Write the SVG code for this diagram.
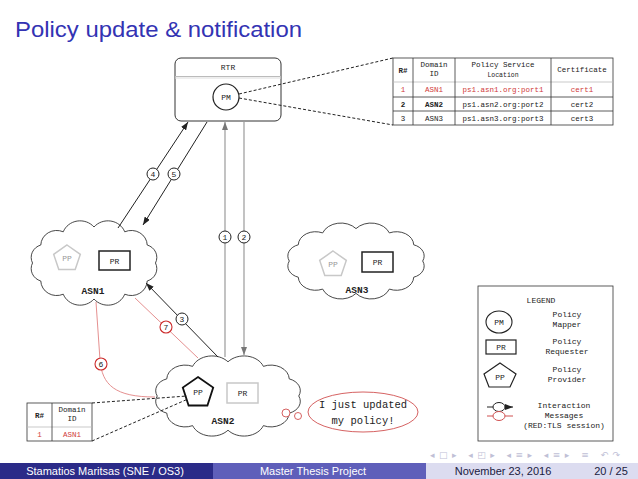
<svg xmlns="http://www.w3.org/2000/svg" width="638" height="479" viewBox="0 0 638 479">
<defs>
<style>
.mono{font-family:"Liberation Mono","DejaVu Sans Mono",monospace;fill:#222}
.t7{font-size:7.5px}
.t8{font-size:8px}
.b{font-weight:bold}
.red{fill:#d03a3a}
.cloud{fill:#fff;stroke:#333;stroke-width:0.9;vector-effect:non-scaling-stroke}
.blk{stroke:#222;stroke-width:1;fill:none}
.gry{stroke:#9a9a9a;stroke-width:1.2;fill:none}
.rl{stroke:#e59090;stroke-width:1;fill:none}
.dash{stroke:#222;stroke-width:1;stroke-dasharray:3,2;fill:none}
.lab{fill:#fff;stroke:#222;stroke-width:1}
.labr{fill:#fff;stroke:#cc2a2a;stroke-width:1.1}
.tbl{fill:#fff;stroke:#333;stroke-width:0.8}
.sans{font-family:"Liberation Sans","DejaVu Sans",sans-serif}
</style>
<marker id="ab" markerWidth="8" markerHeight="6" refX="8" refY="3" orient="auto" markerUnits="userSpaceOnUse"><path d="M0,0 L8,3 L0,6 z" fill="#222"/></marker>
<marker id="ag" markerWidth="8" markerHeight="6" refX="8" refY="3" orient="auto" markerUnits="userSpaceOnUse"><path d="M0,0 L8,3 L0,6 z" fill="#777"/></marker>
</defs>
<rect width="638" height="479" fill="#fff"/>
<text x="15" y="37" class="sans" font-size="22" fill="#3333b3" textLength="287" lengthAdjust="spacingAndGlyphs">Policy update &amp; notification</text>

<!-- clouds -->
<g id="asn1">
<path class="cloud" d="M58,0 A13,13 0 0 1 50.2,18 A15,15 0 0 1 29,31.2 A17,17 0 0 1 0,36 A17,17 0 0 1 -29,31.2 A15,15 0 0 1 -50.2,18 A13,13 0 0 1 -58,0 A13,13 0 0 1 -50.2,-18 A15,15 0 0 1 -29,-31.2 A17,17 0 0 1 0,-36 A17,17 0 0 1 29,-31.2 A15,15 0 0 1 50.2,-18 A13,13 0 0 1 58,0 Z" transform="translate(94,263) scale(1.06,1.0)"/>
<polygon points="67,245 80.3,254.4 75.2,269.6 58.8,269.6 53.7,254.4" fill="#fff" stroke="#c8c8c8" stroke-width="1.5"/>
<text x="67" y="261" text-anchor="middle" class="mono t8" style="fill:#999">PP</text>
<rect x="99" y="251" width="31" height="19" fill="#fff" stroke="#222" stroke-width="1.5"/>
<text x="114.5" y="263.5" text-anchor="middle" class="mono t8">PR</text>
<text x="93" y="294" text-anchor="middle" class="mono b" font-size="9.5">ASN1</text>
</g>
<g id="asn3">
<path class="cloud" d="M58,0 A13,13 0 0 1 50.2,18 A15,15 0 0 1 29,31.2 A17,17 0 0 1 0,36 A17,17 0 0 1 -29,31.2 A15,15 0 0 1 -50.2,18 A13,13 0 0 1 -58,0 A13,13 0 0 1 -50.2,-18 A15,15 0 0 1 -29,-31.2 A17,17 0 0 1 0,-36 A17,17 0 0 1 29,-31.2 A15,15 0 0 1 50.2,-18 A13,13 0 0 1 58,0 Z" transform="translate(356,261) scale(1.15,0.9)"/>
<polygon points="333,251 346.3,260.4 341.2,275.6 324.8,275.6 319.7,260.4" fill="#fff" stroke="#c8c8c8" stroke-width="1.5"/>
<text x="333" y="267" text-anchor="middle" class="mono t8" style="fill:#999">PP</text>
<rect x="362" y="252" width="31" height="20" fill="#fff" stroke="#222" stroke-width="1.5"/>
<text x="377.5" y="265" text-anchor="middle" class="mono t8">PR</text>
<text x="357" y="293" text-anchor="middle" class="mono b" font-size="9.5">ASN3</text>
</g>
<g id="asn2">
<path class="cloud" d="M58,0 A13,13 0 0 1 50.2,18 A15,15 0 0 1 29,31.2 A17,17 0 0 1 0,36 A17,17 0 0 1 -29,31.2 A15,15 0 0 1 -50.2,18 A13,13 0 0 1 -58,0 A13,13 0 0 1 -50.2,-18 A15,15 0 0 1 -29,-31.2 A17,17 0 0 1 0,-36 A17,17 0 0 1 29,-31.2 A15,15 0 0 1 50.2,-18 A13,13 0 0 1 58,0 Z" transform="translate(228,396) scale(1.22,0.95)"/>
<polygon points="198,377 213.2,387.5 207.4,405.5 188.6,405.5 182.8,387.5" fill="#fff" stroke="#111" stroke-width="1.8"/>
<text x="198" y="395" text-anchor="middle" class="mono t8">PP</text>
<rect x="227" y="383" width="31" height="20" fill="#fff" stroke="#c8c8c8" stroke-width="1.5"/>
<text x="242.5" y="396" text-anchor="middle" class="mono t8">PR</text>
<text x="223" y="424" text-anchor="middle" class="mono b" font-size="9.5">ASN2</text>
</g>

<!-- RTR -->
<g id="rtr">
<rect x="175" y="58" width="106" height="63" rx="6" fill="#fff" stroke="#333" stroke-width="1"/>
<line x1="175" y1="76.5" x2="281" y2="76.5" stroke="#bbb" stroke-width="1"/>
<line x1="175" y1="78" x2="281" y2="78" stroke="#ddd" stroke-width="1"/>
<text x="228" y="70" text-anchor="middle" class="mono t8">RTR</text>
<circle cx="226" cy="97" r="13" fill="#fff" stroke="#222" stroke-width="1.2"/>
<text x="226" y="100" text-anchor="middle" class="mono t8">PM</text>
</g>

<!-- RTR table -->
<g id="rtr-table">
<rect x="393" y="58" width="220" height="67" class="tbl"/>
<line x1="393" y1="82" x2="613" y2="82" stroke="#bbb" stroke-width="0.8"/>
<line x1="393" y1="97" x2="613" y2="97" stroke="#333" stroke-width="0.8"/>
<line x1="393" y1="111" x2="613" y2="111" stroke="#333" stroke-width="0.8"/>
<line x1="413" y1="58" x2="413" y2="125" stroke="#333" stroke-width="0.8"/>
<line x1="455" y1="58" x2="455" y2="125" stroke="#333" stroke-width="0.8"/>
<line x1="551" y1="58" x2="551" y2="125" stroke="#333" stroke-width="0.8"/>
<text x="403" y="73" text-anchor="middle" class="mono t7 b">R#</text>
<text x="434" y="67" text-anchor="middle" class="mono t7">Domain</text>
<text x="434" y="76" text-anchor="middle" class="mono t7">ID</text>
<text x="503" y="67" text-anchor="middle" class="mono t7">Policy Service</text>
<text x="503" y="76.5" text-anchor="middle" class="mono" font-size="6.5">Location</text>
<text x="582" y="72" text-anchor="middle" class="mono t7">Certificate</text>
<text x="403" y="92" text-anchor="middle" class="mono t7 red">1</text>
<text x="434" y="92" text-anchor="middle" class="mono t7 red">ASN1</text>
<text x="503" y="92" text-anchor="middle" class="mono t7 red">ps1.asn1.org:port1</text>
<text x="582" y="92" text-anchor="middle" class="mono t7 red">cert1</text>
<text x="403" y="106.5" text-anchor="middle" class="mono t7 b">2</text>
<text x="434" y="106.5" text-anchor="middle" class="mono t7 b">ASN2</text>
<text x="503" y="106.5" text-anchor="middle" class="mono t7">ps1.asn2.org:port2</text>
<text x="582" y="106.5" text-anchor="middle" class="mono t7">cert2</text>
<text x="403" y="120.5" text-anchor="middle" class="mono t7">3</text>
<text x="434" y="120.5" text-anchor="middle" class="mono t7">ASN3</text>
<text x="503" y="120.5" text-anchor="middle" class="mono t7">ps1.asn3.org:port3</text>
<text x="582" y="120.5" text-anchor="middle" class="mono t7">cert3</text>
</g>

<!-- small table -->
<g id="asn2-table">
<rect x="27" y="403" width="65" height="38" class="tbl"/>
<line x1="27" y1="427" x2="92" y2="427" stroke="#bbb" stroke-width="0.8"/>
<line x1="52" y1="403" x2="52" y2="441" stroke="#333" stroke-width="0.8"/>
<text x="39.5" y="418" text-anchor="middle" class="mono t7 b">R#</text>
<text x="72" y="412" text-anchor="middle" class="mono t7">Domain</text>
<text x="72" y="421" text-anchor="middle" class="mono t7">ID</text>
<text x="39.5" y="437" text-anchor="middle" class="mono t7 red">1</text>
<text x="72" y="437" text-anchor="middle" class="mono t7 red">ASN1</text>
</g>

<!-- thought bubble -->
<g id="bubble">
<circle cx="286" cy="413" r="4" fill="#fff" stroke="#d05050" stroke-width="0.9"/>
<circle cx="298" cy="416" r="3.5" fill="#fff" stroke="#d05050" stroke-width="0.9"/>
<ellipse cx="363" cy="412" rx="55" ry="20" fill="#fff" stroke="#d05050" stroke-width="0.9"/>
<text x="363" y="408" text-anchor="middle" class="mono" font-size="10.5">I just updated</text>
<text x="363" y="424" text-anchor="middle" class="mono" font-size="10.5">my policy!</text>
</g>

<!-- connectors -->
<g id="connectors">
<line x1="239" y1="94" x2="393" y2="58" class="dash"/>
<line x1="239" y1="98" x2="393" y2="125" class="dash"/>
<line x1="92" y1="403" x2="187" y2="396" class="dash"/>
<line x1="92" y1="441" x2="188" y2="399" class="dash"/>
<line x1="118" y1="228" x2="188" y2="122" class="blk" marker-end="url(#ab)"/>
<line x1="207" y1="122" x2="143" y2="225" class="blk" marker-end="url(#ab)"/>
<line x1="225" y1="357" x2="225" y2="122" class="gry" marker-end="url(#ag)"/>
<line x1="244" y1="121" x2="244" y2="355" class="gry" marker-end="url(#ag)"/>
<line x1="218" y1="357" x2="146" y2="283" class="blk" marker-end="url(#ab)"/>
<line x1="135" y1="298" x2="198" y2="358" class="rl"/>
<path d="M96,302 L100,360 C102,385 115,397 155,397" class="rl"/>
</g>

<!-- labels -->
<g id="labels">
<circle cx="153" cy="174" r="6" class="lab"/><text x="153" y="177" text-anchor="middle" class="mono t8">4</text>
<circle cx="174" cy="174" r="6" class="lab"/><text x="174" y="177" text-anchor="middle" class="mono t8">5</text>
<circle cx="225" cy="237" r="6" class="lab"/><text x="225" y="240" text-anchor="middle" class="mono t8">1</text>
<circle cx="244" cy="237" r="6" class="lab"/><text x="244" y="240" text-anchor="middle" class="mono t8">2</text>
<circle cx="182" cy="319" r="6" class="lab"/><text x="182" y="322" text-anchor="middle" class="mono t8">3</text>
<circle cx="166" cy="327" r="6" class="labr"/><text x="166" y="330" text-anchor="middle" class="mono t8">7</text>
<circle cx="101" cy="364" r="6" class="labr"/><text x="101" y="367" text-anchor="middle" class="mono t8">6</text>
</g>

<!-- legend -->
<g id="legend">
<rect x="478" y="286" width="135" height="155" fill="#fff" stroke="#333" stroke-width="0.8"/>
<text x="541" y="303" text-anchor="middle" class="mono t8">LEGEND</text>
<ellipse cx="499" cy="322" rx="13" ry="11" fill="#fff" stroke="#222" stroke-width="1.1"/>
<text x="499" y="325" text-anchor="middle" class="mono t8">PM</text>
<text x="567" y="317" text-anchor="middle" class="mono t8">Policy</text>
<text x="567" y="327" text-anchor="middle" class="mono t8">Mapper</text>
<rect x="486" y="340" width="30" height="14" fill="#fff" stroke="#222" stroke-width="1.2"/>
<text x="501" y="350" text-anchor="middle" class="mono t8">PR</text>
<text x="567" y="344" text-anchor="middle" class="mono t8">Policy</text>
<text x="567" y="354" text-anchor="middle" class="mono t8">Requester</text>
<polygon points="500,363 516,374 510,387 489,387 484,374" fill="#fff" stroke="#222" stroke-width="1.2"/>
<text x="500" y="380" text-anchor="middle" class="mono t8">PP</text>
<text x="567" y="372" text-anchor="middle" class="mono t8">Policy</text>
<text x="567" y="382" text-anchor="middle" class="mono t8">Provider</text>
<line x1="487" y1="407" x2="513" y2="407" class="blk" marker-end="url(#ab)"/>
<ellipse cx="499" cy="407" rx="6" ry="4.5" fill="#fff" stroke="#222" stroke-width="1"/>
<line x1="487" y1="416" x2="513" y2="416" stroke="#d05050" stroke-width="1"/>
<ellipse cx="499" cy="416" rx="6" ry="4.5" fill="#fff" stroke="#d05050" stroke-width="1"/>
<text x="564" y="408" text-anchor="middle" class="mono t8">Interaction</text>
<text x="564" y="418" text-anchor="middle" class="mono t8">Messages</text>
<text x="564" y="428" text-anchor="middle" class="mono t8">(RED:TLS session)</text>
</g>

<!-- navigation symbols -->
<text x="430" y="458" font-family="DejaVu Sans, sans-serif" font-size="9" fill="#c0c0d6" textLength="190" lengthAdjust="spacing">◂□▸ ◂◰▸ ◂≡▸ ◂≡▸ ≡ ↶↷</text>

<!-- footer -->
<rect x="0" y="463" width="213" height="16" fill="#2b2b88"/>
<rect x="213" y="463" width="213" height="16" fill="#5f5fba"/>
<rect x="426" y="463" width="212" height="16" fill="#dcdcf0"/>
<text x="105" y="475" text-anchor="middle" class="sans" font-size="11" fill="#fff">Stamatios Maritsas (SNE / OS3)</text>
<text x="313" y="475" text-anchor="middle" class="sans" font-size="11" fill="#fff">Master Thesis Project</text>
<text x="503" y="475" text-anchor="middle" class="sans" font-size="11" fill="#1a1a40">November 23, 2016</text>
<text x="611" y="475" text-anchor="middle" class="sans" font-size="11" fill="#1a1a40">20 / 25</text>
</svg>
